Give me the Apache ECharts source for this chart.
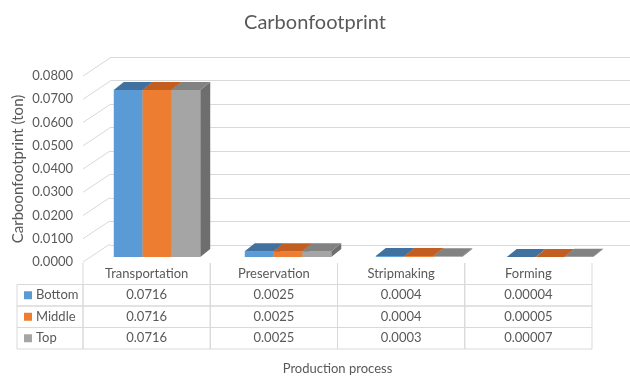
<!DOCTYPE html>
<html>
<head>
<meta charset="utf-8">
<script src="https://cdn.jsdelivr.net/npm/echarts@6/dist/echarts.min.js"></script>
<style>
  html, body { margin: 0; padding: 0; background: #ffffff; }
  #chart { width: 630px; height: 376px; }
</style>
</head>
<body>
<div id="chart"></div>
<script>
// Carbon footprint per production process, three positions
const categories = ['Transportation', 'Preservation', 'Stripmaking', 'Forming'];
const seriesNames = ['Bottom', 'Middle', 'Top'];
const bottomValues = [0.0716, 0.0025, 0.0004, 0.00004];
const middleValues = [0.0716, 0.0025, 0.0004, 0.00005];
const topValues = [0.0716, 0.0025, 0.0003, 0.00007];
const yTicks = [0, 0.01, 0.02, 0.03, 0.04, 0.05, 0.06, 0.07, 0.08];

const seriesValues = [bottomValues, middleValues, topValues];
const frontColors = ['#5B9BD5', '#ED7D31', '#A5A5A5'];
const topColors = ['#41719F', '#C25F20', '#828282'];
const sideColors = ['#3A6694', '#B0541A', '#6E6E6E'];
const FONT = 'Lato, "Open Sans", sans-serif';
const TEXT = '#595959';
const LINE = '#D9D9D9';

const chart = echarts.init(document.getElementById('chart'), null, { renderer: 'canvas' });

// 3D column: side face, front face, top face
function barRenderer(s) {
  return function (params, api) {
    const c = api.value(0);
    const v = api.value(1);
    const base = api.coord([c, 0]);
    const top = api.coord([c, v]);
    const bw = api.size([1, 0])[0] * 0.22;
    const x0 = base[0] + (s - 1.5) * bw;
    const x1 = x0 + bw;
    const dx = 10, dy = -8;
    const yt = top[1], yb = base[1];
    return {
      type: 'group',
      children: [
        { type: 'polygon', shape: { points: [[x1, yt], [x1 + dx, yt + dy], [x1 + dx, yb + dy], [x1, yb]] },
          style: { fill: sideColors[s] } },
        { type: 'rect', shape: { x: x0, y: yt, width: bw, height: yb - yt },
          style: { fill: frontColors[s] } },
        { type: 'polygon', shape: { points: [[x0, yt], [x1, yt], [x1 + dx, yt + dy], [x0 + dx, yt + dy]] },
          style: { fill: topColors[s] } }
      ]
    };
  };
}

// Table rows: header (row 0) then one row per series
const tableData = [];
categories.forEach((name, c) => tableData.push([c, 0, name, -1]));
seriesValues.forEach((vals, s) => {
  vals.forEach((v, c) => tableData.push([c, s + 1, String(v), s]));
});
seriesNames.forEach((n, s) => tableData.push([-1, s + 1, n, s]));

function tableRenderer(params, api) {
  const c = api.value(0);
  const r = api.value(1);
  const label = tableData[params.dataIndex][2];
  const s = tableData[params.dataIndex][3];
  const cw = api.size([1, 0])[0];
  const rh = api.size([0, 1])[1];
  const ref = api.coord([Math.max(c, 0), r]);
  const yTopRow = ref[1];
  const textStyle = { fill: TEXT, fontSize: 13, fontFamily: FONT, verticalAlign: 'middle' };
  if (c < 0) {
    const xr = ref[0] - cw / 2;
    const xl = xr - 66;
    return {
      type: 'group',
      children: [
        { type: 'rect', shape: { x: xl, y: yTopRow, width: xr - xl, height: rh },
          style: { fill: 'none', stroke: LINE, lineWidth: 1 } },
        { type: 'rect', shape: { x: xl + 7, y: yTopRow + rh / 2 - 4, width: 8, height: 8 },
          style: { fill: frontColors[s] } },
        { type: 'text', x: xl + 19, y: yTopRow + rh / 2,
          style: Object.assign({ text: label, align: 'left' }, textStyle) }
      ]
    };
  }
  const xl = ref[0] - cw / 2;
  const children = [];
  if (r === 0) {
    children.push({ type: 'line', shape: { x1: xl, y1: yTopRow, x2: xl, y2: yTopRow + rh }, style: { stroke: LINE, lineWidth: 1 } });
    children.push({ type: 'line', shape: { x1: xl + cw, y1: yTopRow, x2: xl + cw, y2: yTopRow + rh }, style: { stroke: LINE, lineWidth: 1 } });
  } else {
    children.push({ type: 'rect', shape: { x: xl, y: yTopRow, width: cw, height: rh },
      style: { fill: 'none', stroke: LINE, lineWidth: 1 } });
  }
  children.push({ type: 'text', x: ref[0], y: yTopRow + rh / 2,
    style: Object.assign({ text: label, align: 'center' }, textStyle) });
  return { type: 'group', children: children };
}

const option = {
  backgroundColor: '#ffffff',
  animation: false,
  title: {
    text: 'Carbonfootprint',
    left: 'center',
    top: 8,
    textStyle: { color: TEXT, fontSize: 20, fontWeight: 'normal', fontFamily: FONT }
  },
  grid: [
    { left: 110, right: 0, top: 57, height: 188 },      // back wall
    { left: 83, width: 27, top: 76, height: 186 },      // front edge with tick labels
    { left: 91.5, right: 14.5, top: 70.4, bottom: 119 },// columns
    { left: 83, right: 38, top: 263, bottom: 22 }       // data table
  ],
  xAxis: [
    { gridIndex: 0, type: 'category', data: categories, show: false },
    { gridIndex: 1, type: 'value', min: 0, max: 1, show: false },
    { gridIndex: 2, type: 'category', data: categories, show: false },
    { gridIndex: 3, type: 'category', data: categories, position: 'bottom',
      axisLine: { show: false }, axisTick: { show: false }, axisLabel: { show: false },
      name: 'Production process', nameLocation: 'middle', nameGap: 13,
      nameTextStyle: { color: TEXT, fontSize: 13, fontFamily: FONT } }
  ],
  yAxis: [
    { gridIndex: 0, type: 'value', min: 0, max: 0.08, interval: 0.01,
      axisLine: { show: false }, axisTick: { show: false }, axisLabel: { show: false },
      splitLine: { show: true, lineStyle: { color: LINE, width: 1 } } },
    { gridIndex: 1, type: 'value', min: 0, max: 0.08, interval: 0.01,
      axisLine: { show: false }, axisTick: { show: false }, splitLine: { show: false },
      axisLabel: { color: TEXT, fontSize: 13, fontFamily: FONT, margin: 10,
        formatter: v => v.toFixed(4) },
      name: 'Carboonfootprint (ton)', nameLocation: 'middle', nameGap: 57,
      nameTextStyle: { color: TEXT, fontSize: 15, fontFamily: FONT } },
    { gridIndex: 2, type: 'value', min: 0, max: 0.08, show: false },
    { gridIndex: 3, type: 'value', min: 0, max: 4, inverse: true, show: false }
  ],
  series: [
    {
      type: 'custom', xAxisIndex: 1, yAxisIndex: 1,
      data: yTicks.map(v => [0, v]),
      renderItem: function (params, api) {
        const p = api.coord([0, api.value(1)]);
        const q = api.coord([1, api.value(1)]);
        return { type: 'line', shape: { x1: p[0], y1: p[1], x2: q[0], y2: p[1] - 18 },
          style: { stroke: LINE, lineWidth: 1 } };
      },
      silent: true
    },
    ...seriesValues.map((vals, s) => ({
      type: 'custom', name: seriesNames[s], xAxisIndex: 2, yAxisIndex: 2,
      data: vals.map((v, c) => [c, v]),
      renderItem: barRenderer(s)
    })),
    {
      type: 'custom', xAxisIndex: 3, yAxisIndex: 3,
      data: tableData.map(d => [d[0], d[1]]),
      renderItem: tableRenderer,
      clip: false,
      silent: true
    }
  ]
};

chart.setOption(option);
</script>
</body>
</html>
